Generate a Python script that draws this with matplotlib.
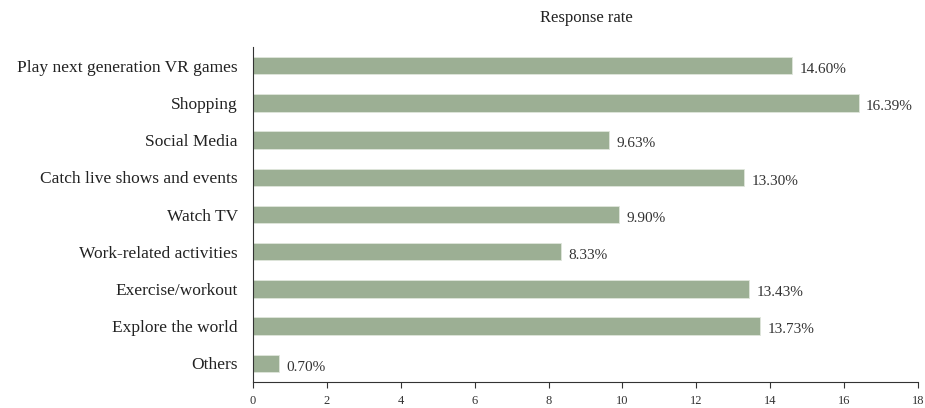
import matplotlib.pyplot as plt

plt.rcParams['font.family'] = ['Liberation Serif', 'DejaVu Serif']

activities = ['Play next generation VR games', 'Shopping', 'Social Media',
              'Catch live shows and events', 'Watch TV', 'Work-related activities',
              'Exercise/workout', 'Explore the world', 'Others']
rates = [14.60, 16.39, 9.63, 13.30, 9.90, 8.33, 13.43, 13.73, 0.70]
xticks = [0, 2, 4, 6, 8, 10, 12, 14, 16, 18]

fig = plt.figure(figsize=(9.25, 4.08), dpi=100)
ax = fig.add_axes([253 / 925, 1 - 382 / 408, 665 / 925, (382 - 47) / 408])

pos = list(range(len(activities)))
ax.barh(pos, rates, height=0.47, color='#9caf94', edgecolor='#dfe6dc', linewidth=0.6)
for y, v in zip(pos, rates):
    ax.text(v + 0.2, y + 0.1, f'{v:.2f}%', va='center', ha='left', fontsize=11, color='#333333')

ax.set_ylim(len(activities) - 0.5, -0.5)
ax.set_xlim(0, 18)
ax.set_yticks(pos)
ax.set_yticklabels(activities, fontsize=12.5, color='#222222')
ax.tick_params(axis='y', length=0, pad=11)
ax.set_xticks(xticks)
ax.set_xticklabels([str(t) for t in xticks], fontsize=9, color='#333333')
ax.tick_params(axis='x', direction='out', length=4, width=0.8, color='#333333', pad=5)

for side in ['top', 'right']:
    ax.spines[side].set_visible(False)
ax.spines['left'].set_color('#333333')
ax.spines['bottom'].set_color('#333333')

fig.text(586 / 925, 1 - 18 / 408, 'Response rate', ha='center', va='center', fontsize=12, color='#222222')

fig.savefig('out.png', dpi=100)
